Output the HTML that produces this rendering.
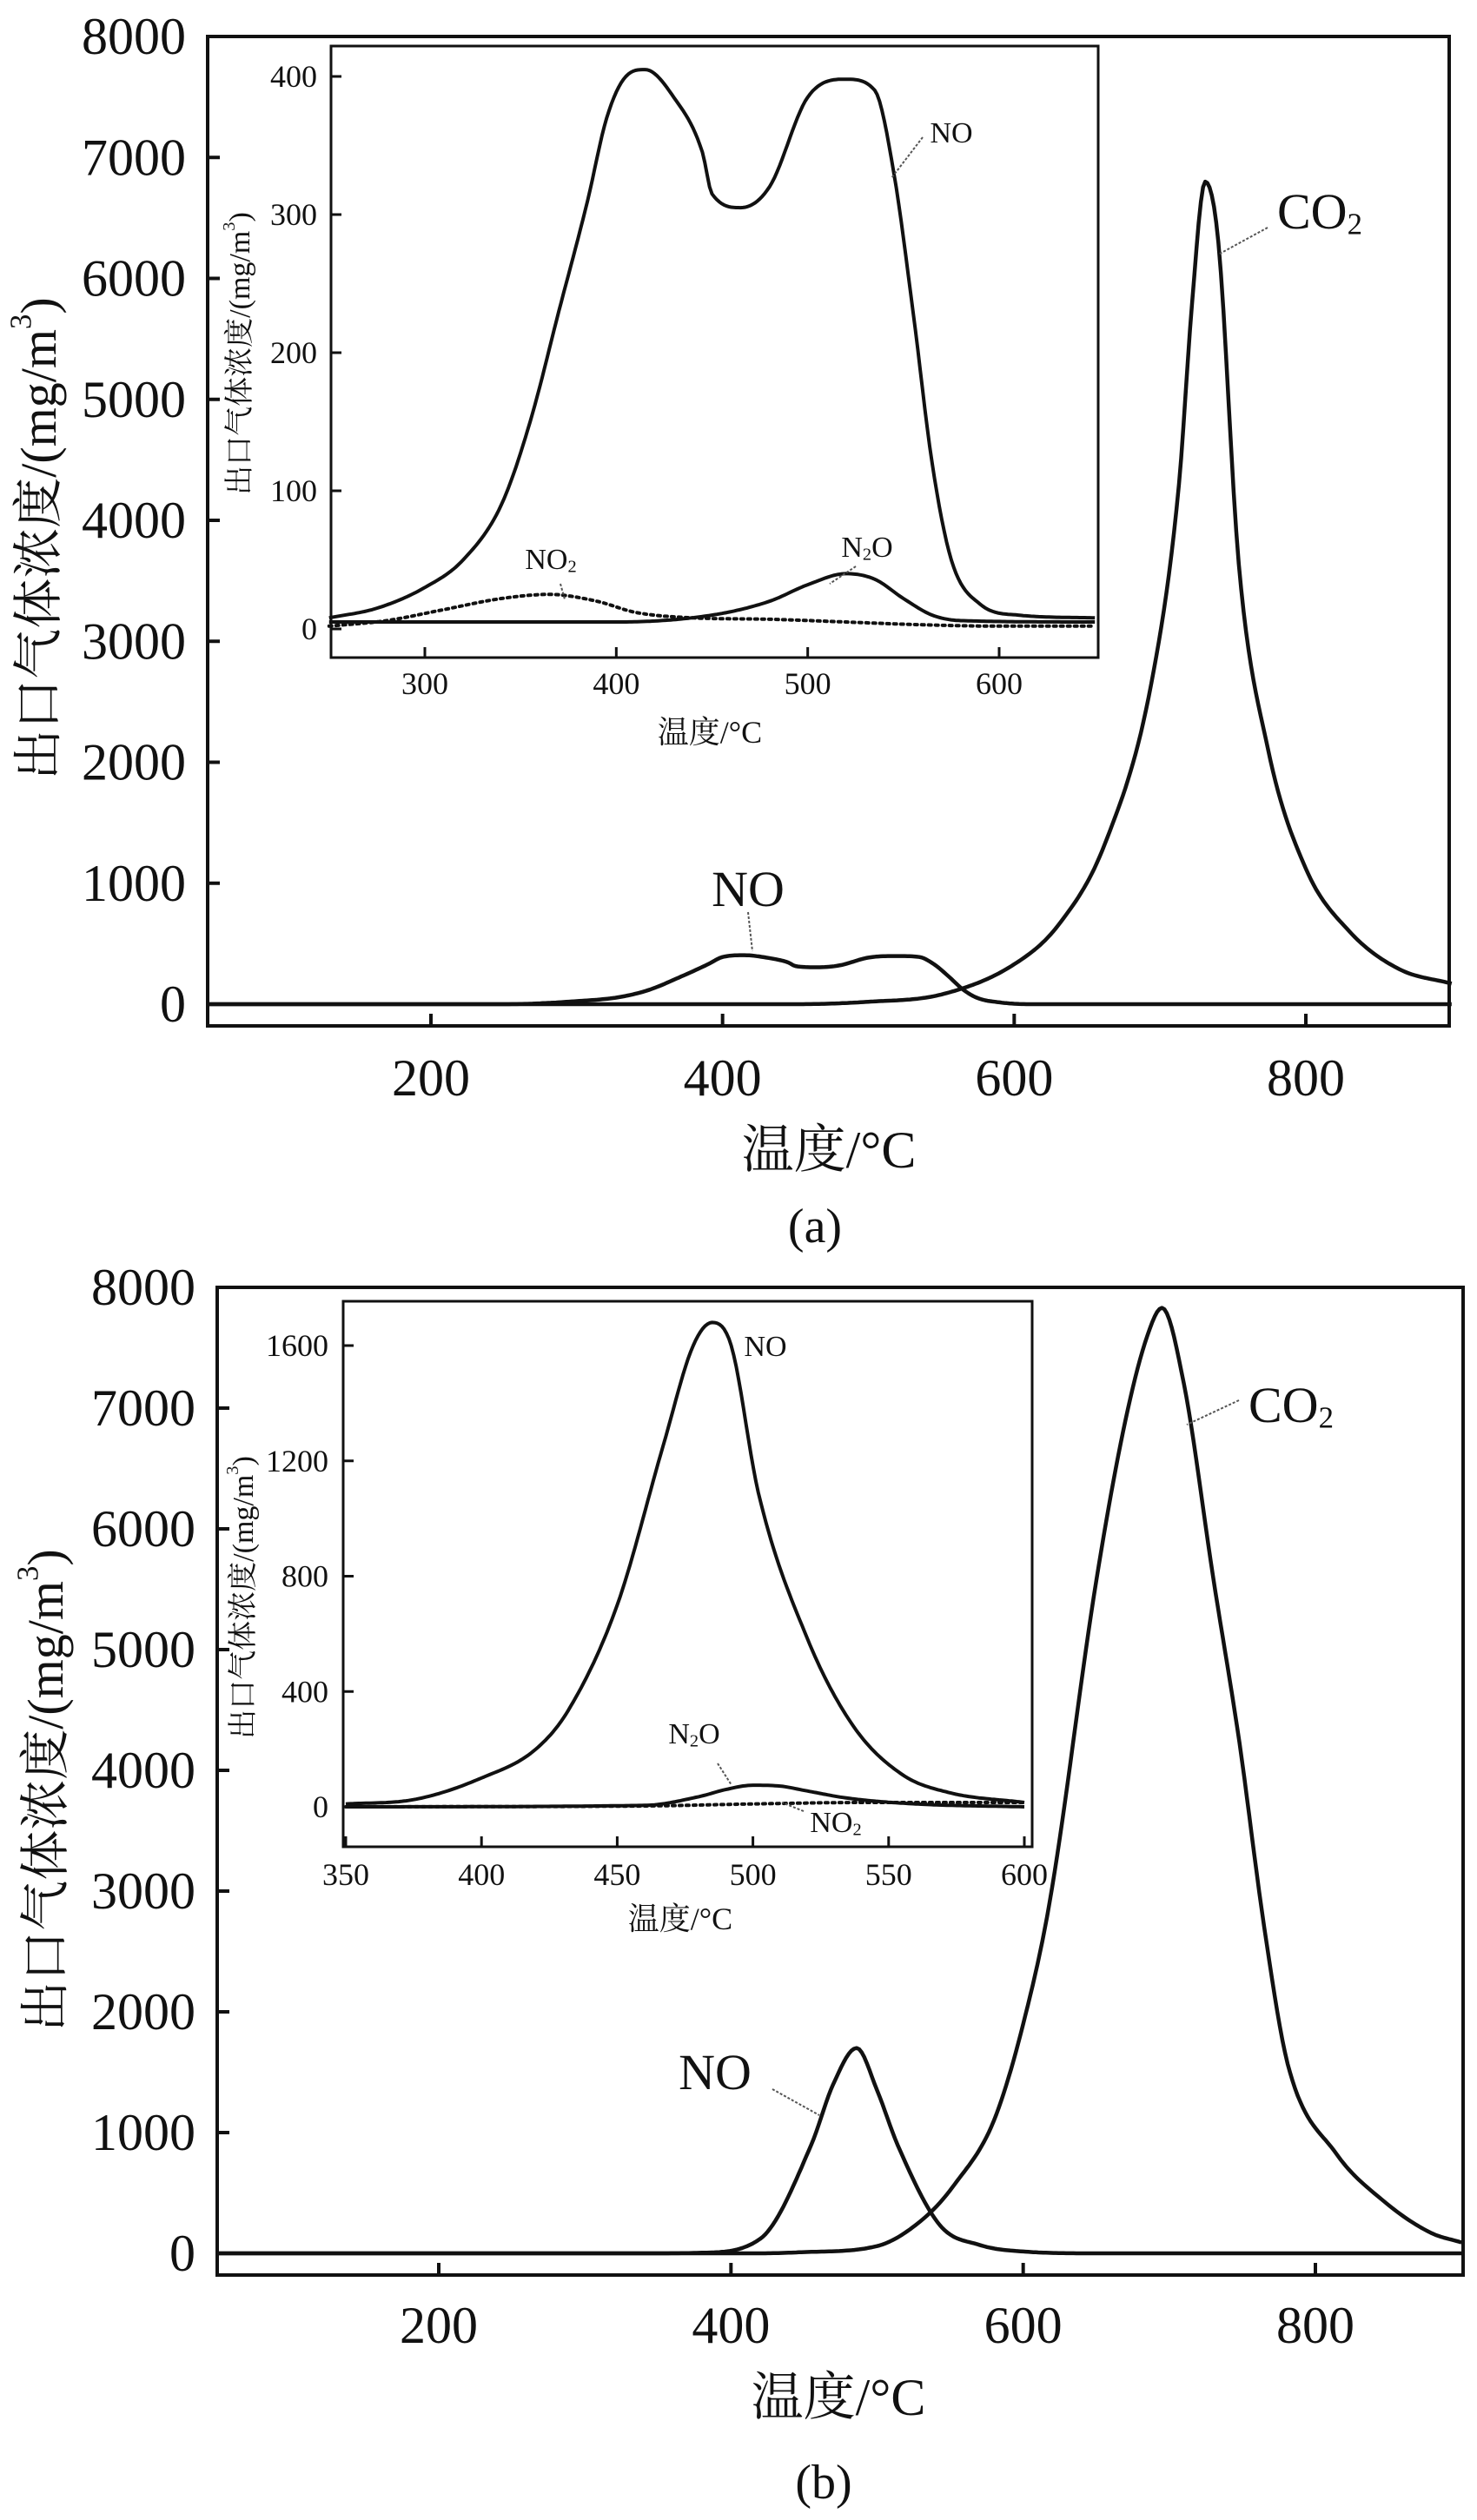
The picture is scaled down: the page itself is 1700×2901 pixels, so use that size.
<!DOCTYPE html>
<html><head><meta charset="utf-8">
<style>
html,body{margin:0;padding:0;background:#fff;}
svg{display:block;}
text{font-family:"Liberation Serif","Noto Serif CJK SC",serif;fill:#111;}
</style></head>
<body>
<svg id="fig" width="1700" height="2901" viewBox="0 0 1700 2901" xmlns="http://www.w3.org/2000/svg"></svg>
<script>
// ---------- Panel (a) main ----------
const aNO_T = [47,250,300,330,350,370,390,400,415,430,445,450,465,480,500,520,535,545,555,565,575,590,610,900];
const aNO_V = [0,0,25,60,120,220,330,390,405,385,345,315,305,320,385,398,390,330,230,120,50,15,0,0];
const aCO2_T = [47,450,500,550,600,630,662,694,713,722,731,740,754,774,800,830,864,900];
const aCO2_V = [0,0,20,80,330,650,1320,2650,4300,5800,6800,6300,3640,2110,1120,600,290,170];
// ---------- Panel (a) inset ----------
const aiNO_T = [250,275,300,320,340,355,370,385,395,405,415,430,445,450,465,480,500,520,535,545,555,565,575,590,610,650];
const aiNO_V = [8,15,30,50,90,150,230,310,370,400,405,385,345,315,305,320,385,398,390,330,230,120,50,18,10,8];
const aiN2O_T = [250,400,450,480,500,520,535,550,565,580,650];
const aiN2O_V = [5,5,10,20,32,40,36,22,10,6,5];
const aiNO2_T = [250,280,310,340,365,390,410,440,480,520,560,600,650];
const aiNO2_V = [2,6,14,22,25,20,12,8,7,5,3,2,2];
// ---------- Panel (b) main ----------
const bNO_T = [48,350,380,420,455,470,486,500,514,543,570,600,650,900];
const bNO_V = [0,0,5,120,900,1400,1700,1350,900,233,70,15,0,0];
const bCO2_T = [48,420,450,500,533,553,580,600,618,650,670,685,695,710,730,748,765,781,814,847,879,900];
const bCO2_V = [0,0,10,60,300,570,1100,1900,2900,5570,6900,7600,7830,7200,5600,4230,2700,1570,830,430,170,90];
// ---------- Panel (b) inset ----------
const biNO_T = [350,375,400,420,432,450,467,478,485,492,502,520,537,555,572,600];
const biNO_V = [10,25,100,200,335,700,1255,1600,1680,1600,1090,585,280,112,50,15];
const biN2O_T = [350,460,480,490,500,510,520,535,560,600];
const biN2O_V = [0,5,35,60,75,72,55,30,10,0];
const biNO2_T = [350,460,500,540,600];
const biNO2_V = [0,3,10,15,15];
// tick labels
const mainXTicks = [200,400,600,800];
const mainYTicks = [0,1000,2000,3000,4000,5000,6000,7000,8000];
const aiXTicks = [300,400,500,600];
const aiYTicks = [0,100,200,300,400];
const biXTicks = [350,400,450,500,550,600];
const biYTicks = [0,400,800,1200,1600];

const NS = "http://www.w3.org/2000/svg";
const svg = document.getElementById('fig');
function mk(tag, attrs, parent){
  const e = document.createElementNS(NS, tag);
  for (const k in attrs) e.setAttribute(k, attrs[k]);
  (parent||svg).appendChild(e);
  return e;
}
function lin(d0,d1,r0,r1){ return v => r0 + (v-d0)/(d1-d0)*(r1-r0); }
// monotone cubic (Fritsch-Carlson) sampled densely
function pathFrom(T,V,sx,sy){
  const n=T.length, d=[], m=new Array(n);
  for (let i=0;i<n-1;i++) d.push((V[i+1]-V[i])/(T[i+1]-T[i]));
  m[0]=d[0]; m[n-1]=d[n-2];
  for (let i=1;i<n-1;i++) m[i] = (d[i-1]*d[i]<=0) ? 0 : (d[i-1]+d[i])/2;
  for (let i=0;i<n-1;i++){
    if (d[i]===0){ m[i]=0; m[i+1]=0; continue; }
    const a=m[i]/d[i], b=m[i+1]/d[i], s=a*a+b*b;
    if (s>9){ const t=3/Math.sqrt(s); m[i]=t*a*d[i]; m[i+1]=t*b*d[i]; }
  }
  let out = `M${sx(T[0]).toFixed(1)},${sy(V[0]).toFixed(1)}`;
  for (let i=0;i<n-1;i++){
    const h=T[i+1]-T[i], steps=Math.max(2,Math.ceil(Math.abs(sx(T[i+1])-sx(T[i]))/3));
    for (let k=1;k<=steps;k++){
      const t=k/steps, t2=t*t, t3=t2*t;
      const v=(2*t3-3*t2+1)*V[i]+(t3-2*t2+t)*h*m[i]+(-2*t3+3*t2)*V[i+1]+(t3-t2)*h*m[i+1];
      out += ` L${sx(T[i]+t*h).toFixed(1)},${sy(v).toFixed(1)}`;
    }
  }
  return out;
}
function axesBox(cfg, name){
  const g = mk('g', {});
  
  
  const r = mk('rect', {x:cfg.L, y:cfg.T, width:cfg.R-cfg.L, height:cfg.B-cfg.T, fill:'#fff', stroke:'#111', 'stroke-width':cfg.sw}, g);
  
  
  cfg.xt.forEach(t=>{
    const x = cfg.sx(t);
    const tk = mk('line', {x1:x, x2:x, y1:cfg.B, y2:cfg.B-cfg.tl, stroke:'#111', 'stroke-width':cfg.sw}, g);
    
    
    const lb = mk('text', {x:x, y:cfg.xly, 'font-size':cfg.fs, 'text-anchor':'middle', 'dominant-baseline':'central'}, g);
    lb.textContent = t;
    
    
  });
  cfg.yt.forEach(t=>{
    const y = cfg.sy(t);
    const tk = mk('line', {x1:cfg.L, x2:cfg.L+cfg.tl, y1:y, y2:y, stroke:'#111', 'stroke-width':cfg.sw}, g);
    
    
    const lb = mk('text', {x:cfg.ylx, y:y, 'font-size':cfg.fs, 'text-anchor':'end', 'dominant-baseline':'central'}, g);
    lb.textContent = t;
    
    
  });
  return g;
}
function series(T,V,cfg,name,dotted,w){
  const p = mk('path', {d:pathFrom(T,V,cfg.sx,cfg.sy), fill:'none', stroke:'#111', 'stroke-width':w||4.5, 'stroke-linejoin':'round', 'stroke-dasharray':dotted?'3 5':'none', 'stroke-linecap':dotted?'round':'butt'});
  
  
}
function label(x,y,main,sub,tail,fs,name){
  const t = mk('text', {x:x, y:y, 'font-size':fs, 'text-anchor':'middle', 'dominant-baseline':'central'});
  
  
  const a = mk('tspan', {}, t); a.textContent = main;
  if (sub){
    const s = mk('tspan', {'font-size':fs*0.6, dy:fs*0.25}, t); s.textContent = sub;
    if (tail){ const u = mk('tspan', {dy:-fs*0.25}, t); u.textContent = tail; }
  }
}
function leader(x1,y1,x2,y2,name){
  const l = mk('line', {x1,y1,x2,y2, stroke:'#555', 'stroke-width':2, 'stroke-dasharray':'3 2'});
  
  
}
function ytitle(x,y,fs,name){
  const t = mk('text', {x:x, y:y, 'font-size':fs, 'text-anchor':'middle', 'dominant-baseline':'central', transform:`rotate(-90 ${x} ${y})`});
  
  
  const a = mk('tspan', {}, t); a.textContent = '出口气体浓度/(mg/m';
  const s = mk('tspan', {'font-size':fs*0.6, dy:-fs*0.35}, t); s.textContent = '3';
  const c = mk('tspan', {dy:fs*0.35}, t); c.textContent = ')';
}
function txt(x,y,s,fs,name){
  const t = mk('text', {x:x, y:y, 'font-size':fs, 'text-anchor':'middle', 'dominant-baseline':'central'});
  t.textContent = s;
  
  
}

// ===== Panel a main =====
const A = {L:239,R:1668,T:42,B:1181,sw:4,tl:14,fs:60,xly:1241,ylx:214,xt:mainXTicks,yt:mainYTicks};
A.sx = lin(200,800,496,1503); A.sy = lin(0,8000,1156,42);
axesBox(A,'panel-a-axes');
series(aCO2_T,aCO2_V,A,'panel-a-co2-line');
series(aNO_T,aNO_V,A,'panel-a-no-line');
ytitle(44,620,58,'panel-a-y-axis-title');
txt(954,1324,'温度/°C',60,'panel-a-x-axis-title');
txt(938,1412,'(a)',56,'panel-a-caption');
label(1519,243,'CO','2','',58,'panel-a-co2-label');
leader(1459,262,1404,292,'panel-a-co2-leader');
label(861,1023,'NO','','',58,'panel-a-no-label');
leader(861,1050,866,1095,'panel-a-no-leader');

// ===== Panel a inset =====
const AI = {L:381,R:1264,T:53,B:757,sw:3,tl:12,fs:36,xly:787,ylx:365,xt:aiXTicks,yt:aiYTicks};
AI.sx = lin(300,600,489,1150); AI.sy = lin(0,400,724,88);
axesBox(AI,'panel-a-inset-axes');
series(aiNO2_T,aiNO2_V,AI,'panel-a-inset-no2-line',true,4);
series(aiN2O_T,aiN2O_V,AI,'panel-a-inset-n2o-line',false,4);
series(aiNO_T,aiNO_V,AI,'panel-a-inset-no-line',false,4);
ytitle(276,407,34,'panel-a-inset-y-axis-title');
txt(817,843,'温度/°C',36,'panel-a-inset-x-axis-title');
label(1095,153,'NO','','',34,'panel-a-inset-no-label');
leader(1062,158,1026,205,'panel-a-inset-no-leader');
label(998,630,'N','2','O',34,'panel-a-inset-n2o-label');
leader(985,652,955,672,'panel-a-inset-n2o-leader');
label(634,644,'NO','2','',34,'panel-a-inset-no2-label');
leader(645,672,650,690,'panel-a-inset-no2-leader');

// ===== Panel b main =====
const B = {L:250,R:1684,T:1482,B:2619,sw:4,tl:14,fs:60,xly:2677,ylx:225,xt:mainXTicks,yt:mainYTicks};
B.sx = lin(200,800,505,1514); B.sy = lin(0,8000,2594,1482);
axesBox(B,'panel-b-axes');
series(bCO2_T,bCO2_V,B,'panel-b-co2-line');
series(bNO_T,bNO_V,B,'panel-b-no-line');
ytitle(52,2061,58,'panel-b-y-axis-title');
txt(965,2760,'温度/°C',60,'panel-b-x-axis-title');
txt(948,2858,'(b)',56,'panel-b-caption');
label(1486,1617,'CO','2','',58,'panel-b-co2-label');
leader(1426,1612,1366,1640,'panel-b-co2-leader');
label(823,2385,'NO','','',58,'panel-b-no-label');
leader(889,2405,943,2435,'panel-b-no-leader');

// ===== Panel b inset =====
const BI = {L:395,R:1188,T:1498,B:2126,sw:3,tl:12,fs:36,xly:2158,ylx:378,xt:biXTicks,yt:biYTicks};
BI.sx = lin(350,600,398,1179); BI.sy = lin(0,1600,2080,1549);
axesBox(BI,'panel-b-inset-axes');
series(biNO2_T,biNO2_V,BI,'panel-b-inset-no2-line',true,4);
series(biN2O_T,biN2O_V,BI,'panel-b-inset-n2o-line',false,4);
series(biNO_T,biNO_V,BI,'panel-b-inset-no-line',false,4);
ytitle(280,1839,34,'panel-b-inset-y-axis-title');
txt(783,2209,'温度/°C',36,'panel-b-inset-x-axis-title');
label(881,1550,'NO','','',34,'panel-b-inset-no-label');
label(799,1996,'N','2','O',34,'panel-b-inset-n2o-label');
leader(826,2030,842,2055,'panel-b-inset-n2o-leader');
label(962,2098,'NO','2','',34,'panel-b-inset-no2-label');
leader(925,2085,900,2075,'panel-b-inset-no2-leader');
</script>
</body></html>
